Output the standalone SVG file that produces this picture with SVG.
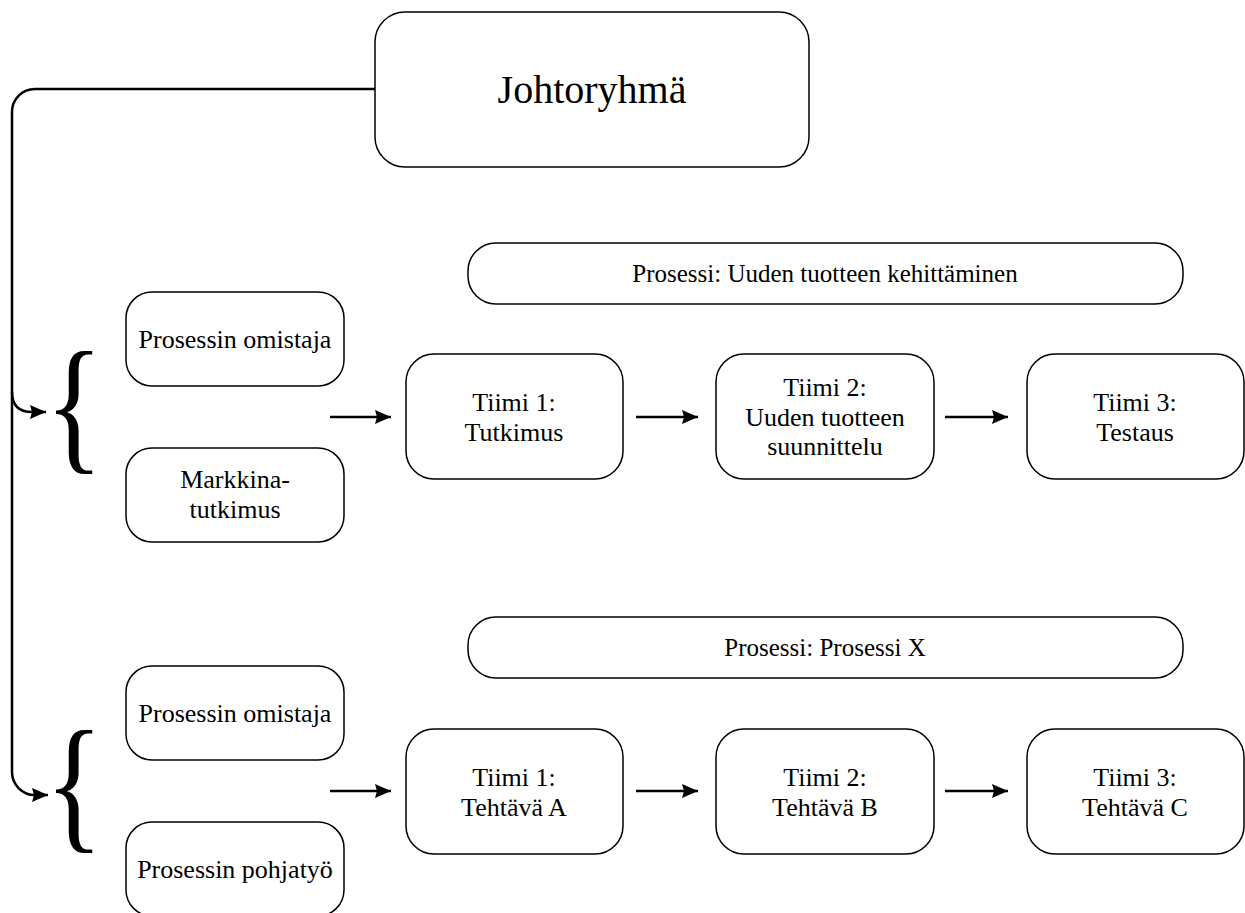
<svg xmlns="http://www.w3.org/2000/svg" width="1245" height="913" viewBox="0 0 1245 913">
  <defs>
    <marker id="head" markerUnits="userSpaceOnUse" markerWidth="17" markerHeight="14" refX="16" refY="7" orient="auto">
      <path d="M0,0 L16,7 L0,14 L2,7 Z" fill="#000"/>
    </marker>
    <style>
      .box { fill: #fff; stroke: #000; stroke-width: 1.5; }
      .lbl { font-family: "Liberation Serif", "Times New Roman", serif; font-size: 26px; fill: #000; text-anchor: middle; }
      .big { font-size: 40px; }
      .ban { font-size: 25px; }
      .brace { font-family: "Liberation Serif", "Times New Roman", serif; font-size: 148px; fill: #000; }
      .wire { fill: none; stroke: #000; stroke-width: 2.5; }
    </style>
  </defs>
  <rect width="1245" height="913" fill="#fff"/>

  <!-- connectors -->
  <g id="connectors">
    <path class="wire" d="M375,89 H35 A23,23 0 0 0 12,112 V772 A23,23 0 0 0 35,795 H48" marker-end="url(#head)"/>
    <path class="wire" d="M12,392 Q12,412 32,412 H46" marker-end="url(#head)"/>
    <path class="wire" d="M330,417 H391" marker-end="url(#head)"/>
    <path class="wire" d="M636,417 H698" marker-end="url(#head)"/>
    <path class="wire" d="M945,417 H1008" marker-end="url(#head)"/>
    <path class="wire" d="M330,791 H391" marker-end="url(#head)"/>
    <path class="wire" d="M636,791 H698" marker-end="url(#head)"/>
    <path class="wire" d="M945,791 H1008" marker-end="url(#head)"/>
  </g>

  <!-- braces grouping the owner boxes -->
  <g id="brace-1"><text class="brace" transform="translate(45,454) scale(0.82,1)">{</text></g>
  <g id="brace-2"><text class="brace" transform="translate(45,833) scale(0.82,1)">{</text></g>

  <g id="johtoryhma">
    <rect class="box" x="375" y="12" width="434" height="155" rx="30"/>
    <text class="lbl big" x="592" y="103">Johtoryhmä</text>
  </g>

  <!-- process 1 -->
  <g id="prosessi-1">
    <rect class="box" x="468" y="243" width="715" height="61" rx="28"/>
    <text class="lbl ban" x="825" y="282">Prosessi: Uuden tuotteen kehittäminen</text>
  </g>
  <g id="omistaja-1">
    <rect class="box" x="126" y="292" width="218" height="94" rx="26"/>
    <text class="lbl" x="235" y="348">Prosessin omistaja</text>
  </g>
  <g id="markkinatutkimus">
    <rect class="box" x="126" y="448" width="218" height="94" rx="26"/>
    <text class="lbl" x="235" y="488">Markkina-</text>
    <text class="lbl" x="235" y="518">tutkimus</text>
  </g>
  <g id="p1-tiimi-1">
    <rect class="box" x="406" y="354" width="217" height="125" rx="28"/>
    <text class="lbl" x="514" y="411">Tiimi 1:</text>
    <text class="lbl" x="514" y="441">Tutkimus</text>
  </g>
  <g id="p1-tiimi-2">
    <rect class="box" x="716" y="354" width="218" height="125" rx="28"/>
    <text class="lbl" x="825" y="396">Tiimi 2:</text>
    <text class="lbl" x="825" y="426">Uuden tuotteen</text>
    <text class="lbl" x="825" y="455">suunnittelu</text>
  </g>
  <g id="p1-tiimi-3">
    <rect class="box" x="1027" y="354" width="217" height="125" rx="28"/>
    <text class="lbl" x="1135" y="411">Tiimi 3:</text>
    <text class="lbl" x="1135" y="441">Testaus</text>
  </g>

  <!-- process 2 -->
  <g id="prosessi-2">
    <rect class="box" x="468" y="617" width="715" height="61" rx="28"/>
    <text class="lbl ban" x="825" y="656">Prosessi: Prosessi X</text>
  </g>
  <g id="omistaja-2">
    <rect class="box" x="126" y="666" width="218" height="94" rx="26"/>
    <text class="lbl" x="235" y="722">Prosessin omistaja</text>
  </g>
  <g id="pohjatyo">
    <rect class="box" x="126" y="822" width="218" height="94" rx="26"/>
    <text class="lbl" x="235" y="878">Prosessin pohjatyö</text>
  </g>
  <g id="p2-tiimi-1">
    <rect class="box" x="406" y="729" width="217" height="125" rx="28"/>
    <text class="lbl" x="514" y="786">Tiimi 1:</text>
    <text class="lbl" x="514" y="816">Tehtävä A</text>
  </g>
  <g id="p2-tiimi-2">
    <rect class="box" x="716" y="729" width="218" height="125" rx="28"/>
    <text class="lbl" x="825" y="786">Tiimi 2:</text>
    <text class="lbl" x="825" y="816">Tehtävä B</text>
  </g>
  <g id="p2-tiimi-3">
    <rect class="box" x="1027" y="729" width="217" height="125" rx="28"/>
    <text class="lbl" x="1135" y="786">Tiimi 3:</text>
    <text class="lbl" x="1135" y="816">Tehtävä C</text>
  </g>
</svg>
